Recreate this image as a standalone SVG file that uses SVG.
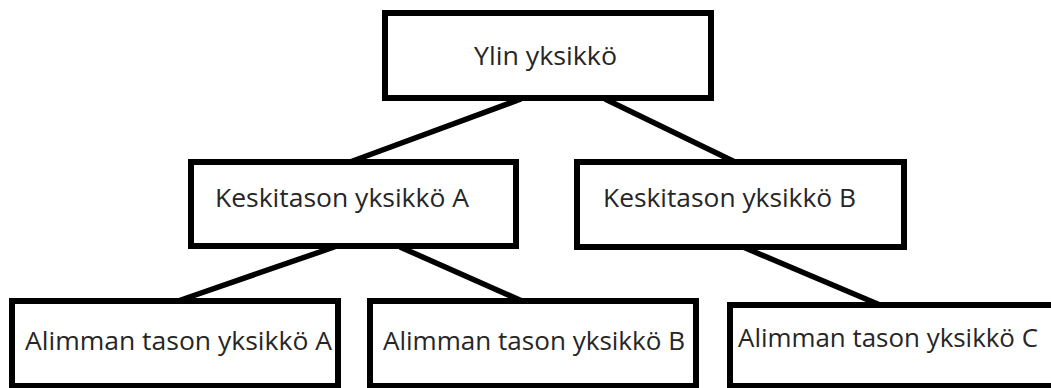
<svg xmlns="http://www.w3.org/2000/svg" width="1051" height="388" viewBox="0 0 1051 388">
  <style>
    .box { fill: #ffffff; stroke: #000000; stroke-width: 6; }
    .link { stroke: #000000; stroke-width: 5.5; stroke-linecap: butt; fill: none; }
    .label { font-family: "Open Sans", "Noto Sans", "Liberation Sans", sans-serif; font-size: 25px; fill: #262626; }
  </style>
  <rect x="0" y="0" width="1051" height="388" fill="#ffffff"/>

  <!-- connectors -->
  <g id="connectors">
    <line class="link" x1="521" y1="99" x2="350" y2="162"/>
    <line class="link" x1="605" y1="99" x2="735" y2="162"/>
    <line class="link" x1="337" y1="246" x2="178" y2="301"/>
    <line class="link" x1="400" y1="247" x2="522" y2="301"/>
    <line class="link" x1="743" y1="247" x2="880" y2="305"/>
  </g>

  <!-- top level -->
  <g id="ylin">
    <rect class="box" x="385" y="13" width="326" height="85"/>
    <text class="label" x="474" y="65" textLength="143" lengthAdjust="spacingAndGlyphs">Ylin yksikkö</text>
  </g>

  <!-- middle level -->
  <g id="keski-a">
    <rect class="box" x="191" y="162" width="325" height="84"/>
    <text class="label" x="215" y="207" textLength="254" lengthAdjust="spacingAndGlyphs">Keskitason yksikkö A</text>
  </g>
  <g id="keski-b">
    <rect class="box" x="577" y="162" width="327" height="85"/>
    <text class="label" x="603" y="207" textLength="253" lengthAdjust="spacingAndGlyphs">Keskitason yksikkö B</text>
  </g>

  <!-- bottom level -->
  <g id="alin-a">
    <rect class="box" x="12" y="301" width="326" height="85"/>
    <text class="label" x="25" y="350" textLength="307" lengthAdjust="spacingAndGlyphs">Alimman tason yksikkö A</text>
  </g>
  <g id="alin-b">
    <rect class="box" x="370" y="301" width="326" height="85"/>
    <text class="label" x="383" y="350" textLength="302" lengthAdjust="spacingAndGlyphs">Alimman tason yksikkö B</text>
  </g>
  <g id="alin-c">
    <rect class="box" x="730" y="305" width="330" height="81"/>
    <text class="label" x="738" y="347" textLength="300" lengthAdjust="spacingAndGlyphs">Alimman tason yksikkö C</text>
  </g>
</svg>
